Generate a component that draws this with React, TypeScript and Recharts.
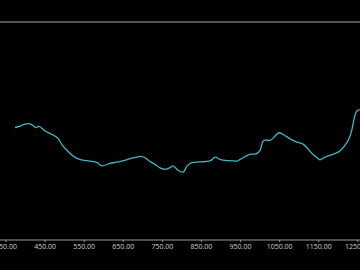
import { LineChart, Line, XAxis, YAxis, ReferenceLine } from "recharts";

const positions = [
  373, 386, 396, 409, 419, 427, 434, 450, 468, 483, 493, 509, 527, 539, 565, 583,
  596, 616, 637, 654, 675, 688, 695, 706, 713, 731, 744, 757, 770, 777, 790, 803,
  813, 826, 846, 872, 885, 897, 918, 941, 949, 961, 974, 987, 1000, 1007, 1013,
  1025, 1038, 1048, 1059, 1077, 1094, 1110, 1120, 1135, 1146, 1153, 1166, 1186,
  1204, 1217, 1230, 1235, 1243, 1250, 1255,
];

const levels = [
  51.6, 52.2, 53.0, 53.4, 52.5, 51.6, 52.1, 50.0, 48.4, 46.6, 43.8, 40.6, 37.9, 37.0,
  36.2, 35.5, 34.0, 35.2, 35.8, 36.5, 37.7, 38.1, 38.4, 37.7, 36.7, 34.7, 33.1, 32.4,
  33.2, 34.0, 32.0, 31.1, 33.9, 35.5, 35.8, 36.3, 38.0, 37.0, 36.4, 36.2, 37.0, 38.2,
  39.3, 39.4, 41.1, 45.2, 45.8, 45.7, 47.6, 49.2, 48.4, 46.4, 44.9, 44.0, 42.3, 39.3,
  37.7, 36.8, 38.0, 39.3, 40.8, 43.4, 47.6, 50.7, 57.5, 59.5, 59.8,
];

const xTicks = [350, 450, 550, 650, 750, 850, 950, 1050, 1150, 1250];

const data = positions.map((x, i) => ({ x, y: levels[i] }));

export default function App() {
  return (
    <div
      style={{
        position: "fixed",
        left: 0,
        top: 0,
        width: 360,
        height: 270,
        background: "#000",
      }}
    >
      <LineChart
        width={360}
        height={270}
        data={data}
        margin={{ top: 22, right: 0, left: 0, bottom: 0 }}
      >
        <XAxis
          dataKey="x"
          type="number"
          domain={[334.65, 1255.6]}
          allowDataOverflow
          ticks={xTicks}
          interval={0}
          height={30}
          tickFormatter={(v: number) => v.toFixed(2)}
          stroke="#9a9a9a"
          tickSize={2}
          tickMargin={2}
          tick={{ fill: "#d0d0d0", fontSize: 7, fontFamily: "Open Sans" }}
        />
        <YAxis hide type="number" domain={[0, 100]} />
        <ReferenceLine y={100} stroke="#a8a8a8" strokeWidth={1} />
        <Line
          type="monotone"
          dataKey="y"
          stroke="#3fb6c6"
          strokeWidth={1.3}
          dot={false}
          isAnimationActive={false}
        />
      </LineChart>
    </div>
  );
}
